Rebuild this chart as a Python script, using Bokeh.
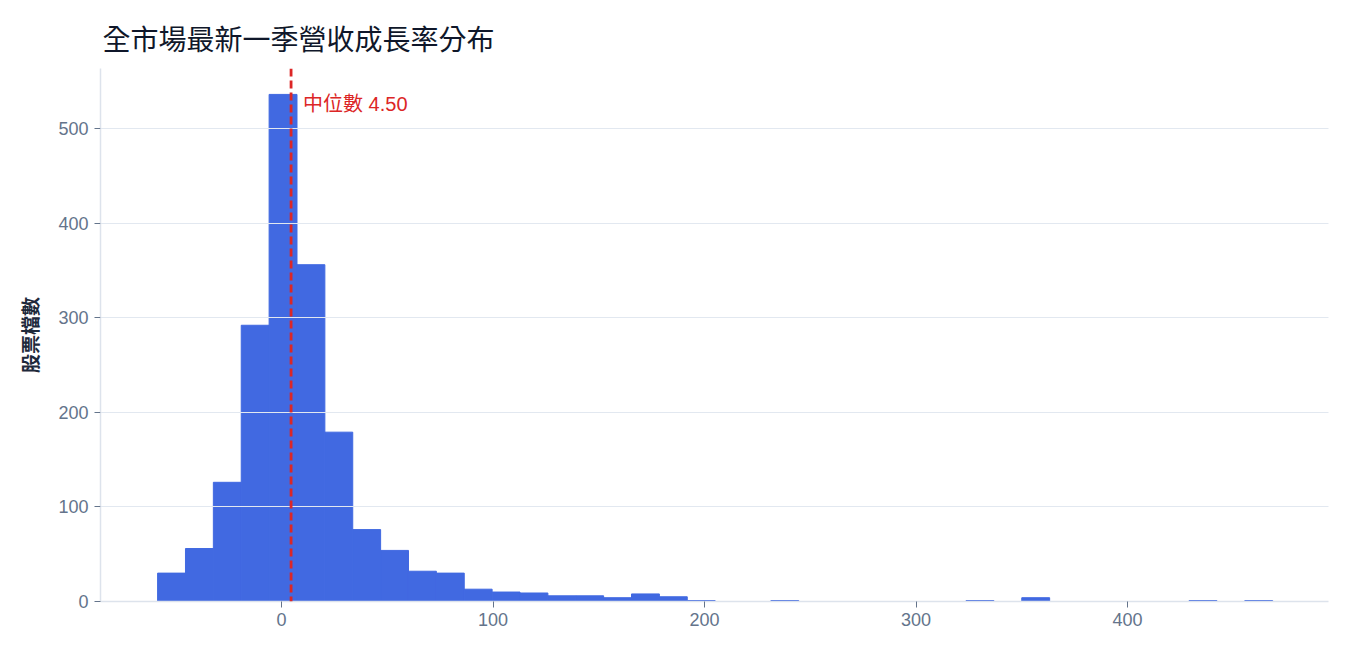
import numpy as np
from bokeh.plotting import figure
from bokeh.models import Span, Label, FixedTicker, ColumnDataSource
from bokeh.embed import file_html
from bokeh.resources import INLINE

# ---- data ----
bin_lo = -58.6
bin_hi = 468.6
counts = [30, 56, 126, 292, 536, 356, 179, 76, 54, 32,
          30, 13, 10, 9, 6, 6, 4, 8, 5, 1,
          0, 0, 1, 0, 0, 0, 0, 0, 0, 1,
          0, 4, 0, 0, 0, 0, 0, 1, 0, 1]
median = 4.50
x_ticks = [0, 100, 200, 300, 400]
y_ticks = [0, 100, 200, 300, 400, 500]
title = "全市場最新一季營收成長率分布"
y_label = "股票檔數"

edges = np.linspace(bin_lo, bin_hi, len(counts) + 1)
src = ColumnDataSource(dict(left=edges[:-1], right=edges[1:], top=counts))

p = figure(width=1342, height=641, output_backend="svg", toolbar_location=None,
           x_range=(-85.6, 495), y_range=(0, 563.4),
           min_border_left=100, min_border_right=14, min_border_bottom=40, min_border_top=68)

p.quad(left="left", right="right", top="top", bottom=0, source=src,
       fill_color="#4169E1", line_color="#4169E1", line_width=1)

p.title.text = title
p.title.text_font = "Noto Sans CJK TC"
p.title.text_font_size = "28px"
p.title.text_font_style = "normal"
p.title.text_color = "#0f172a"
p.title.offset = 2
p.title.standoff = 18
p.title.vertical_align = "top"

p.outline_line_color = None
p.background_fill_color = "white"
p.border_fill_color = "white"

p.xgrid.grid_line_color = None
p.ygrid.grid_line_color = "#e2e8f0"
p.ygrid.grid_line_width = 1
p.ygrid.level = "annotation"

for ax in (p.xaxis, p.yaxis):
    ax.axis_line_color = "#dde3ec"
    ax.axis_line_width = 1.5
    ax.major_tick_line_color = "#64748b"
    ax.major_tick_out = 6
    ax.major_tick_in = 0
    ax.minor_tick_line_color = None
    ax.major_label_text_color = "#64748b"
    ax.major_label_text_font = "Liberation Sans"
    ax.major_label_text_font_size = "18px"

p.xaxis.ticker = FixedTicker(ticks=x_ticks)
p.yaxis.ticker = FixedTicker(ticks=y_ticks)
p.xaxis.major_label_standoff = 5
p.yaxis.major_label_standoff = 6

p.yaxis.axis_label = y_label
p.yaxis.axis_label_text_font = "Noto Sans CJK TC"
p.yaxis.axis_label_text_font_size = "19px"
p.yaxis.axis_label_text_font_style = "bold"
p.yaxis.axis_label_text_color = "#1e293b"
p.yaxis.axis_label_standoff = 12

span = Span(location=median, dimension="height", line_color="#dc2626",
            line_width=2.8, line_dash="8 4", level="annotation")
p.add_layout(span)

lab = Label(x=median, y=526, text=f"中位數 {median:.2f}", x_offset=12,
            text_color="#dc2626", text_font="Liberation Sans, Noto Sans CJK TC",
            text_font_size="20px", text_baseline="middle", text_align="left")
p.add_layout(lab)

open("out.html", "w").write(file_html(p, INLINE))
